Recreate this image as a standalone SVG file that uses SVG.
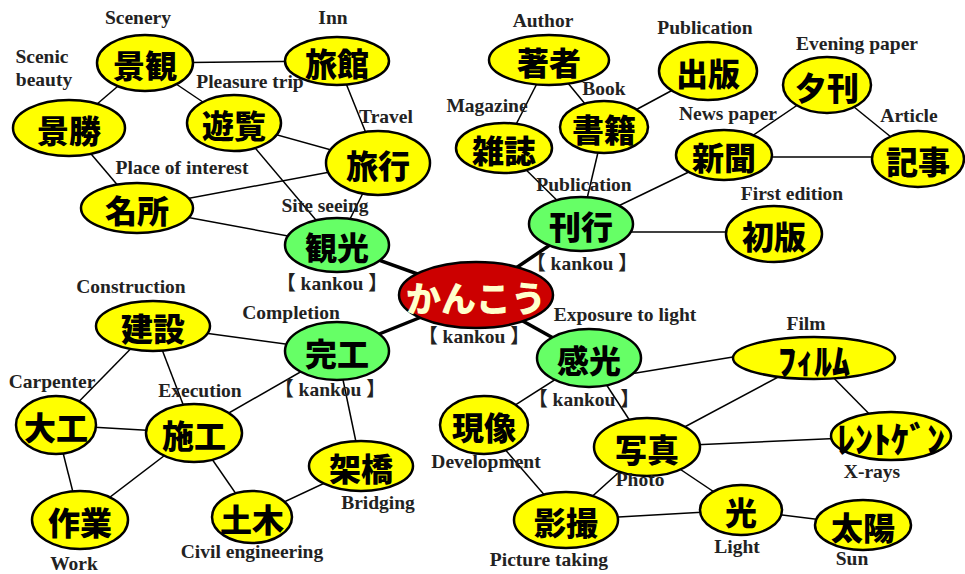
<svg xmlns="http://www.w3.org/2000/svg" width="965" height="574" viewBox="0 0 965 574">
<style>
.y{fill:#FFFF00;stroke:#000;stroke-width:2.5}
.g{fill:#66FF66;stroke:#000;stroke-width:2.5}
.r{fill:#CC0000;stroke:#000;stroke-width:2.5}
.j{font-family:"Noto Sans CJK JP","Noto Sans CJK SC",sans-serif;font-weight:900;font-size:32px;fill:#000;text-anchor:middle;dominant-baseline:central}
.k{font-family:"Noto Sans CJK JP",sans-serif;font-weight:900;font-size:36px;fill:#000;text-anchor:middle;dominant-baseline:central}
.l{font-family:"Liberation Serif","Noto Sans CJK JP",serif;font-weight:bold;font-size:19.5px;fill:#222;text-anchor:middle}
#edges line{stroke:#000;stroke-width:1.5}
#edges line.t{stroke-width:3.5}
</style>
<rect width="965" height="574" fill="#fff"/>
<g id="edges">
<line x1="145" y1="63" x2="337" y2="61"/>
<line x1="145" y1="63" x2="69" y2="128"/>
<line x1="145" y1="63" x2="234" y2="123"/>
<line x1="69" y1="128" x2="137" y2="208"/>
<line x1="234" y1="123" x2="378" y2="163"/>
<line x1="234" y1="123" x2="337" y2="245"/>
<line x1="137" y1="208" x2="378" y2="163"/>
<line x1="137" y1="208" x2="337" y2="245"/>
<line x1="337" y1="61" x2="378" y2="163"/>
<line x1="378" y1="163" x2="337" y2="245"/>
<line x1="549" y1="60" x2="504" y2="148"/>
<line x1="549" y1="60" x2="604" y2="127"/>
<line x1="604" y1="127" x2="708" y2="71"/>
<line x1="604" y1="127" x2="581" y2="224"/>
<line x1="504" y1="148" x2="581" y2="224"/>
<line x1="581" y1="224" x2="724" y2="155"/>
<line x1="581" y1="232" x2="774" y2="232"/>
<line x1="724" y1="155" x2="827" y2="85"/>
<line x1="724" y1="157" x2="918" y2="157"/>
<line x1="827" y1="85" x2="918" y2="159"/>
<line x1="153" y1="326" x2="337" y2="351"/>
<line x1="153" y1="326" x2="56" y2="425"/>
<line x1="153" y1="326" x2="194" y2="433"/>
<line x1="337" y1="351" x2="194" y2="433"/>
<line x1="337" y1="351" x2="361" y2="466"/>
<line x1="56" y1="425" x2="194" y2="433"/>
<line x1="56" y1="425" x2="80" y2="520"/>
<line x1="194" y1="433" x2="80" y2="520"/>
<line x1="194" y1="433" x2="252" y2="517"/>
<line x1="252" y1="517" x2="361" y2="466"/>
<line x1="630" y1="374" x2="745" y2="355"/>
<line x1="589" y1="358" x2="484" y2="425"/>
<line x1="589" y1="358" x2="647" y2="447"/>
<line x1="647" y1="447" x2="814" y2="358"/>
<line x1="647" y1="447" x2="891" y2="436"/>
<line x1="647" y1="447" x2="741" y2="510"/>
<line x1="647" y1="447" x2="566" y2="520"/>
<line x1="484" y1="425" x2="566" y2="520"/>
<line x1="566" y1="520" x2="741" y2="510"/>
<line x1="741" y1="510" x2="863" y2="525"/>
<line x1="814" y1="358" x2="891" y2="436"/>
<line class="t" x1="476" y1="295" x2="337" y2="245"/>
<line class="t" x1="476" y1="295" x2="581" y2="224"/>
<line class="t" x1="476" y1="295" x2="337" y2="351"/>
<line class="t" x1="476" y1="295" x2="589" y2="358"/>
</g>
<g id="n-keikan"><ellipse class="y" cx="145" cy="63" rx="48" ry="28"/><text class="j" x="145" y="64">景観</text><text class="l" x="138" y="24">Scenery</text></g>
<g id="n-keisho"><ellipse class="y" cx="69" cy="128" rx="56" ry="28"/><text class="j" x="69" y="129">景勝</text><text class="l" x="42" y="63">Scenic</text><text class="l" x="44" y="86">beauty</text></g>
<g id="n-yuran"><ellipse class="y" cx="234" cy="123" rx="47" ry="28"/><text class="j" x="234" y="124">遊覧</text><text class="l" x="250" y="88">Pleasure trip</text></g>
<g id="n-meisho"><ellipse class="y" cx="137" cy="208" rx="56" ry="25"/><text class="j" x="137" y="209">名所</text><text class="l" x="182" y="174">Place of interest</text></g>
<g id="n-ryokan"><ellipse class="y" cx="337" cy="61" rx="52" ry="24"/><text class="j" x="337" y="62">旅館</text><text class="l" x="333" y="24">Inn</text></g>
<g id="n-ryoko"><ellipse class="y" cx="378" cy="163" rx="52" ry="32"/><text class="j" x="378" y="164">旅行</text><text class="l" x="386" y="123">Travel</text></g>
<g id="n-kanko1"><ellipse class="g" cx="337" cy="245" rx="52" ry="27"/><text class="j" x="337" y="246">観光</text><text class="l" x="325" y="212">Site seeing</text><text class="l" x="332" y="290">【 kankou 】</text></g>
<g id="n-chosha"><ellipse class="y" cx="549" cy="60" rx="60" ry="25"/><text class="j" x="549" y="61">著者</text><text class="l" x="543" y="27">Author</text></g>
<g id="n-zasshi"><ellipse class="y" cx="504" cy="148" rx="48" ry="25"/><text class="j" x="504" y="149">雑誌</text><text class="l" x="487" y="112">Magazine</text></g>
<g id="n-shoseki"><ellipse class="y" cx="604" cy="127" rx="44" ry="26"/><text class="j" x="604" y="128">書籍</text><text class="l" x="604" y="95">Book</text></g>
<g id="n-shuppan"><ellipse class="y" cx="708" cy="71" rx="49" ry="29"/><text class="j" x="708" y="72">出版</text><text class="l" x="705" y="34">Publication</text></g>
<g id="n-kanko2"><ellipse class="g" cx="581" cy="224" rx="52" ry="27"/><text class="j" x="581" y="225">刊行</text><text class="l" x="584" y="191">Publication</text><text class="l" x="582" y="270">【 kankou 】</text></g>
<g id="n-yukan"><ellipse class="y" cx="827" cy="85" rx="44" ry="28"/><text class="j" x="827" y="86">夕刊</text><text class="l" x="857" y="50">Evening paper</text></g>
<g id="n-shinbun"><ellipse class="y" cx="724" cy="155" rx="48" ry="25"/><text class="j" x="724" y="156">新聞</text><text class="l" x="728" y="120">News paper</text></g>
<g id="n-kiji"><ellipse class="y" cx="918" cy="159" rx="46" ry="28"/><text class="j" x="918" y="160">記事</text><text class="l" x="909" y="122">Article</text></g>
<g id="n-shohan"><ellipse class="y" cx="774" cy="234" rx="48" ry="28"/><text class="j" x="774" y="235">初版</text><text class="l" x="792" y="200">First edition</text></g>
<g id="n-center"><ellipse class="r" cx="476" cy="295" rx="77" ry="33"/><text class="j" x="476" y="296" style="fill:#FFFFCC;font-size:35px">かんこう</text><text class="l" x="474" y="343">【 kankou 】</text></g>
<g id="n-kanko3"><ellipse class="g" cx="337" cy="351" rx="52" ry="29"/><text class="j" x="337" y="352">完工</text><text class="l" x="291" y="319">Completion</text><text class="l" x="330" y="396">【 kankou 】</text></g>
<g id="n-kensetsu"><ellipse class="y" cx="153" cy="326" rx="57" ry="25"/><text class="j" x="153" y="327">建設</text><text class="l" x="131" y="293">Construction</text></g>
<g id="n-daiku"><ellipse class="y" cx="56" cy="425" rx="40" ry="29"/><text class="j" x="56" y="426">大工</text><text class="l" x="52" y="388">Carpenter</text></g>
<g id="n-seko"><ellipse class="y" cx="194" cy="433" rx="48" ry="29"/><text class="j" x="194" y="434">施工</text><text class="l" x="200" y="397">Execution</text></g>
<g id="n-kakyo"><ellipse class="y" cx="361" cy="466" rx="52" ry="25"/><text class="j" x="361" y="467">架橋</text><text class="l" x="378" y="509">Bridging</text></g>
<g id="n-sagyo"><ellipse class="y" cx="80" cy="520" rx="48" ry="29"/><text class="j" x="80" y="521">作業</text><text class="l" x="74" y="570">Work</text></g>
<g id="n-doboku"><ellipse class="y" cx="252" cy="517" rx="40" ry="26"/><text class="j" x="252" y="518">土木</text><text class="l" x="252" y="558">Civil engineering</text></g>
<g id="n-kanko4"><ellipse class="g" cx="589" cy="358" rx="52" ry="29"/><text class="j" x="589" y="359">感光</text><text class="l" x="625" y="321">Exposure to light</text><text class="l" x="584" y="406">【 kankou 】</text></g>
<g id="n-genzo"><ellipse class="y" cx="484" cy="425" rx="44" ry="29"/><text class="j" x="484" y="426">現像</text><text class="l" x="486" y="468">Development</text></g>
<g id="n-shashin"><ellipse class="y" cx="647" cy="447" rx="53" ry="29"/><text class="j" x="647" y="448">写真</text><text class="l" x="640" y="486">Photo</text></g>
<g id="n-eisatsu"><ellipse class="y" cx="566" cy="520" rx="52" ry="28"/><text class="j" x="566" y="521">影撮</text><text class="l" x="549" y="566">Picture taking</text></g>
<g id="n-film"><ellipse class="y" cx="814" cy="358" rx="81" ry="21"/><text class="k" x="814" y="359">ﾌｨﾙﾑ</text><text class="l" x="806" y="330">Film</text></g>
<g id="n-xray"><ellipse class="y" cx="891" cy="436" rx="60" ry="24"/><text class="k" x="891" y="437">ﾚﾝﾄｹﾞﾝ</text><text class="l" x="872" y="478">X-rays</text></g>
<g id="n-hikari"><ellipse class="y" cx="741" cy="510" rx="41" ry="25"/><text class="j" x="741" y="511">光</text><text class="l" x="737" y="553">Light</text></g>
<g id="n-taiyo"><ellipse class="y" cx="863" cy="525" rx="48" ry="25"/><text class="j" x="863" y="526">太陽</text><text class="l" x="852" y="565">Sun</text></g>
</svg>
